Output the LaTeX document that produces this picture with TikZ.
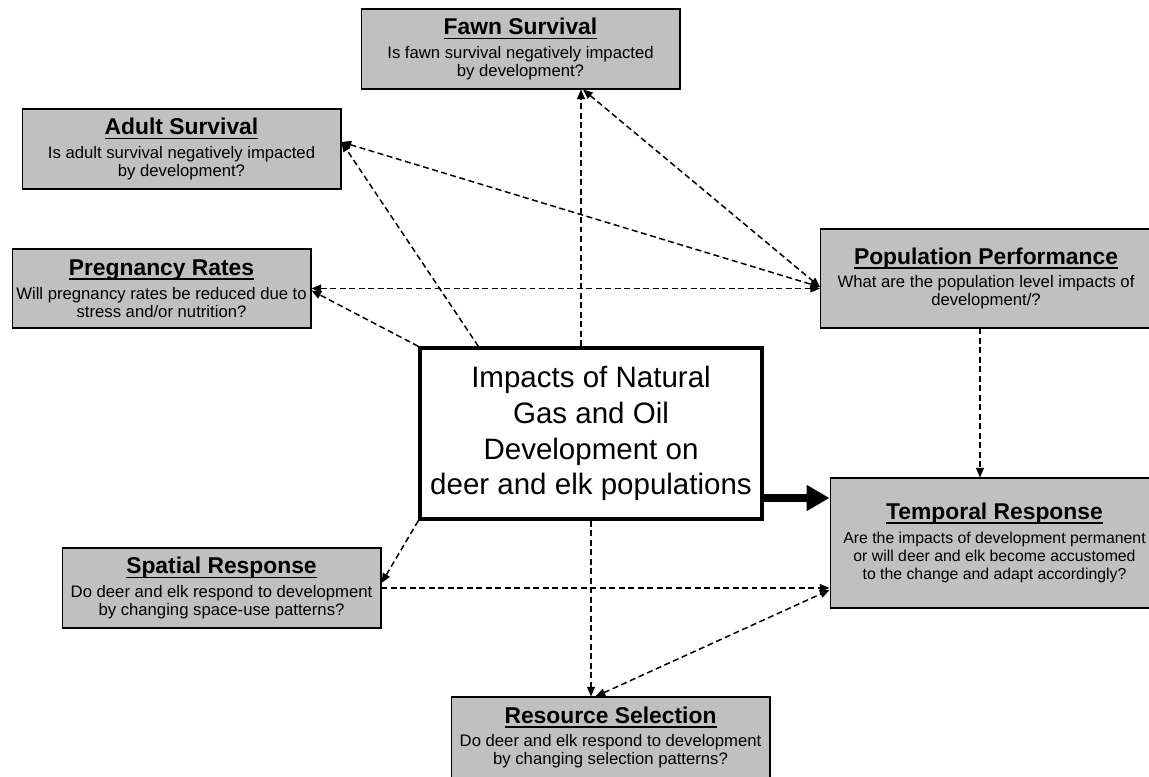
\documentclass[tikz,border=0pt]{standalone}
\usepackage{fontspec}
\setmainfont{Liberation Sans}
\usetikzlibrary{arrows.meta}
\definecolor{boxgray}{RGB}{192,192,192}
\newcommand{\boxtitle}[1]{{\fontsize{13}{14}\selectfont\bfseries\setbox0\hbox{#1}\rlap{\rule[-2.4pt]{\wd0}{0.75pt}}\box0}\\[3.2pt]}
\tikzset{
  qbox/.style={draw, fill=boxgray, line width=0.6pt, inner sep=0pt, align=center, font=\fontsize{9.5}{10.2}\selectfont},
  tip/.tip={Triangle[length=5.5pt,width=4.5pt]},
  link/.style={line width=0.85pt, dash pattern=on 3.4pt off 2pt, -tip},
  twolink/.style={link, tip-tip}
}
\begin{document}
\begin{tikzpicture}[x=0.02cm, y=-0.02cm]
    \useasboundingbox (0,0) rectangle (1149,777);
    \node[qbox, minimum width=6.38cm, minimum height=1.6cm] (fawn) at (520.5,49) {\boxtitle{Fawn Survival}Is fawn survival negatively impacted\\by development?};
    \node[qbox, minimum width=6.38cm, minimum height=1.6cm] (adult) at (181.5,149) {\boxtitle{Adult Survival}Is adult survival negatively impacted\\by development?};
    \node[qbox, minimum width=5.98cm, minimum height=1.58cm] (preg) at (161.5,288.5) {\boxtitle{Pregnancy Rates}Will pregnancy rates be reduced due to\\stress and/or nutrition?};
    \node[qbox, minimum width=6.62cm, minimum height=1.98cm] (pop) at (986,278.5) {\boxtitle{Population Performance}What are the population level impacts of\\development/?};
    \node[draw, fill=white, line width=1.9pt, inner sep=0pt, align=center, minimum width=6.84cm, minimum height=3.42cm, font=\fontsize{16.8}{20.4}\selectfont] (main) at (591,433.5) {Impacts of Natural\\Gas and Oil\\Development on\\deer and elk populations};
    \node[qbox, minimum width=6.58cm, minimum height=2.6cm, font=\fontsize{9}{10.4}\selectfont] (temp) at (994.5,543) {\boxtitle{Temporal Response}Are the impacts of development permanent\\or will deer and elk become accustomed\\to the change and adapt accordingly?};
    \node[qbox, minimum width=6.38cm, minimum height=1.6cm] (spat) at (221.5,588) {\boxtitle{Spatial Response}Do deer and elk respond to development\\by changing space-use patterns?};
    \node[qbox, minimum width=6.38cm, minimum height=1.62cm] (res) at (610.5,737.5) {\boxtitle{Resource Selection}Do deer and elk respond to development\\by changing selection patterns?};
    \draw[link] ([xshift=1.21cm]fawn.south |- main.north) -- ([xshift=1.21cm]fawn.south);
    \draw[link] ([xshift=1.2cm]main.north west) -- ([yshift=0.14cm]adult.east);
    \draw[link] (main.north west) -- ([yshift=-0.04cm]preg.east);
    \draw[twolink] (preg.east) -- (preg.east -| pop.west);
    \draw[twolink] ([yshift=0.14cm]adult.east) -- ([yshift=-0.17cm]pop.west);
    \draw[twolink] ([xshift=1.25cm]fawn.south) -- ([yshift=-0.17cm]pop.west);
    \draw[link] ([xshift=-0.12cm]pop.south) -- ([xshift=-0.12cm]pop.south |- temp.north);
    \draw[line width=4pt, -{Triangle[length=13pt,width=14pt]}] ([yshift=-1.29cm]main.east) -- ([yshift=-1.29cm]main.east -| temp.west);
    \draw[link] (main.south west) -- ([yshift=0.1cm]spat.east);
    \draw[link] (spat.east) -- (spat.east -| temp.west);
    \draw[link] (main.south) -- (main.south |- res.north);
    \draw[twolink] ([xshift=-0.3cm]res.north) -- ([yshift=-0.94cm]temp.west);
\end{tikzpicture}
\end{document}
